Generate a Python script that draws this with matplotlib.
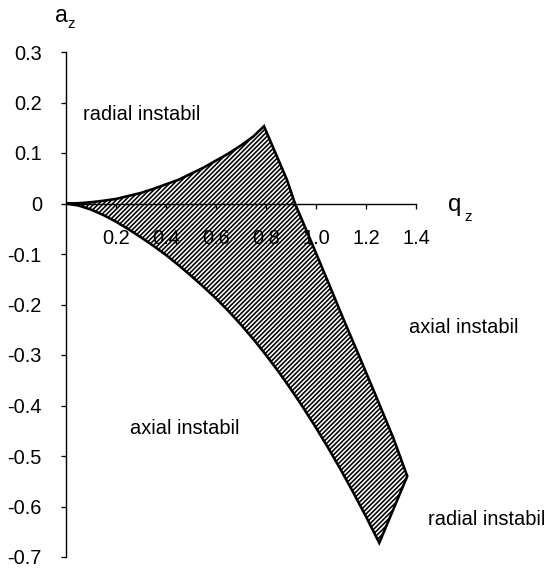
import numpy as np
import matplotlib
matplotlib.use('Agg')
import matplotlib.pyplot as plt
from matplotlib.patches import Polygon

DPI = 110


def px(v):
    # pixel size -> points at the output dpi
    return v * 72 / DPI


plt.rcParams['font.family'] = 'Liberation Sans'
plt.rcParams['hatch.linewidth'] = px(1.6)

# boundary of the first stability region (q_z, a_z)
upper_q = [0.0, 0.05, 0.1, 0.15, 0.2, 0.25, 0.3, 0.35, 0.4, 0.45, 0.5,
           0.55, 0.6, 0.65, 0.7, 0.75, 0.792]
upper_a = [0.0, 0.0006, 0.0025, 0.0055, 0.009, 0.015, 0.021, 0.029, 0.038,
           0.047, 0.059, 0.071, 0.085, 0.099, 0.115, 0.133, 0.153]

right_q = [0.792, 0.883, 0.916, 0.976, 1.043, 1.109, 1.176, 1.243, 1.309, 1.365]
right_a = [0.153, 0.048, 0.0, -0.070, -0.149, -0.228, -0.306, -0.385, -0.464, -0.540]

bottom_q = [1.365, 1.253]
bottom_a = [-0.540, -0.672]

lower_q = [1.253, 1.2, 1.15, 1.1, 1.05, 1.0, 0.95, 0.9, 0.85, 0.8, 0.75,
           0.7, 0.65, 0.6, 0.55, 0.5, 0.45, 0.4, 0.35, 0.3, 0.25, 0.2,
           0.15, 0.1, 0.05, 0.0]
lower_a = [-0.672, -0.620, -0.573, -0.528, -0.485, -0.444, -0.405, -0.368,
           -0.333, -0.300, -0.269, -0.240, -0.213, -0.188, -0.165, -0.143,
           -0.122, -0.102, -0.084, -0.067, -0.051, -0.036, -0.023, -0.012,
           -0.004, 0.0]

x_ticks = [0.2, 0.4, 0.6, 0.8, 1.0, 1.2, 1.4]
x_labels = ['0.2', '0.4', '0.6', '0.8', '1.0', '1.2', '1.4']
y_ticks = [0.3, 0.2, 0.1, 0.0, -0.1, -0.2, -0.3, -0.4, -0.5, -0.6, -0.7]
y_labels = ['0.3', '0.2', '0.1', '0', '-0.1', '-0.2', '-0.3', '-0.4', '-0.5', '-0.6', '-0.7']

# region labels: (q, a, text)
regions = [
    (0.069, 0.165, 'radial instabil'),
    (1.372, -0.257, 'axial instabil'),
    (0.256, -0.456, 'axial instabil'),
    (1.448, -0.637, 'radial instabil'),
]

fig = plt.figure(figsize=(546 / DPI, 569 / DPI), dpi=DPI)
ax = fig.add_axes([66 / 546, 12 / 569, 350 / 546, 505 / 569])
ax.set_xlim(0, 1.4)
ax.set_ylim(-0.7, 0.3)

q = np.concatenate([upper_q, right_q[1:], bottom_q[1:], lower_q[1:]])
a = np.concatenate([upper_a, right_a[1:], bottom_a[1:], lower_a[1:]])
region = Polygon(np.column_stack([q, a]), closed=True, facecolor='white',
                 edgecolor='black', hatch='/' * 8, linewidth=px(2.6),
                 joinstyle='miter', zorder=1, clip_on=False)
ax.add_patch(region)

# axes: left spine and a horizontal axis through a_z = 0
for side in ['top', 'right']:
    ax.spines[side].set_visible(False)
ax.spines['bottom'].set_position(('data', 0))
for side in ['left', 'bottom']:
    ax.spines[side].set_linewidth(px(1.4))

fs = px(20)
ax.set_xticks(x_ticks)
ax.set_xticklabels(x_labels)
ax.set_yticks(y_ticks)
ax.set_yticklabels(y_labels)
ax.tick_params(axis='x', direction='out', length=px(5), width=px(1.3),
               pad=px(20), labelsize=fs)
ax.tick_params(axis='y', direction='out', length=px(5), width=px(1.3),
               pad=px(19), labelsize=fs)

for rq, ra, txt in regions:
    ax.text(rq, ra, txt, fontsize=fs, ha='left', va='baseline', clip_on=False)

# axis names with a detached subscript
ax.text(-0.046, 0.359, 'a', fontsize=px(23), ha='left', va='baseline', clip_on=False)
ax.text(0.006, 0.347, 'z', fontsize=px(15), ha='left', va='baseline', clip_on=False)
ax.text(1.528, -0.015, 'q', fontsize=px(24), ha='left', va='baseline', clip_on=False)
ax.text(1.594, -0.035, 'z', fontsize=px(15), ha='left', va='baseline', clip_on=False)

fig.savefig('out.png', dpi=DPI)
